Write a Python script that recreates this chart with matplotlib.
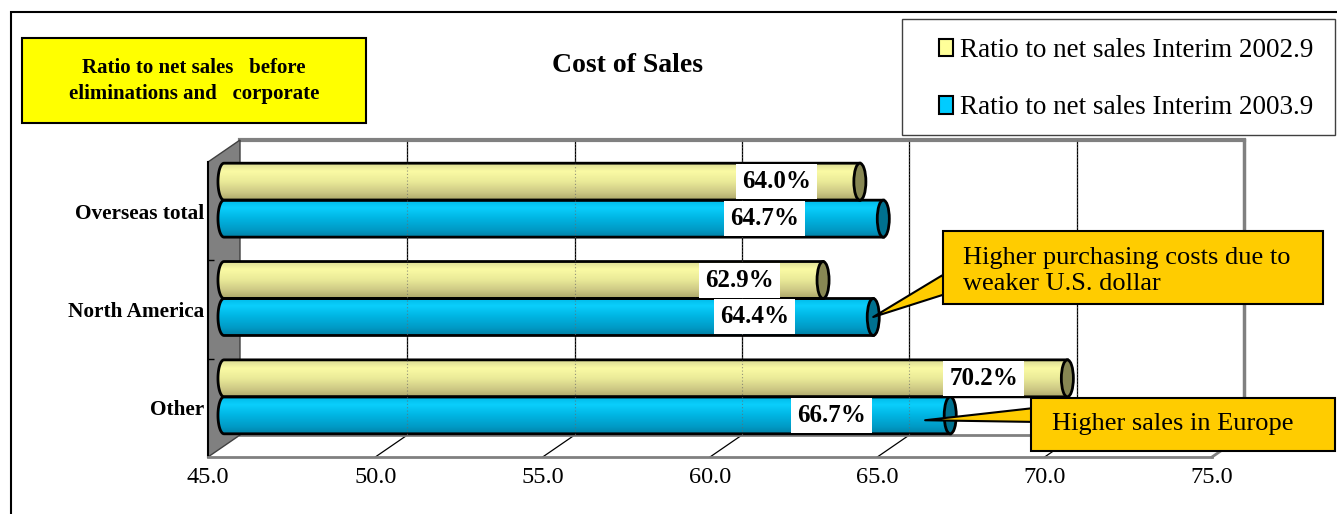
import numpy as np
import matplotlib
matplotlib.use("Agg")
import matplotlib.pyplot as plt
from matplotlib.patches import Rectangle, Polygon, Ellipse, PathPatch, Patch
from matplotlib.path import Path
from matplotlib.colors import LinearSegmentedColormap

plt.rcParams['font.family'] = ['Liberation Serif', 'DejaVu Serif']

# data
categories = ['Overseas total', 'North America', 'Other']
ratio_2002 = [64.0, 62.9, 70.2]
ratio_2003 = [64.7, 64.4, 66.7]
series_names = ['Ratio to net sales Interim 2002.9', 'Ratio to net sales Interim 2003.9']
x_ticks = [45.0, 50.0, 55.0, 60.0, 65.0, 70.0, 75.0]
title = 'Cost of Sales'
note = 'Ratio to net sales   before\neliminations and   corporate'
callout_na = 'Higher purchasing costs due to\nweaker U.S. dollar'
callout_other = 'Higher sales in Europe'

W, H = 1337, 514
fig = plt.figure(figsize=(W / 100, H / 100), dpi=100)


def px(x, y):
    # pixel position -> figure fraction
    return x / W, 1 - y / H


ax = fig.add_axes([208 / W, 1 - 457 / H, 1004 / W, 295 / H])
ax.set_facecolor('none')
xmin, xmax = x_ticks[0], x_ticks[-1]
# 3d depth offset in data units
DX = 32 / (1004 / (xmax - xmin))
DY = 22 / (295 / 3)
y0, y1 = -0.5, 2.5

# back wall grid lines and floor
for t in x_ticks[1:-1]:
    ax.plot([t + DX, t + DX], [y0 - DY, y1 - DY], color='black', lw=0.9, zorder=1, clip_on=False)
    ax.plot([t, t + DX], [y1, y1 - DY], color='black', lw=0.9, zorder=1, clip_on=False)
ax.plot([xmin + DX, xmax + DX], [y0 - DY, y0 - DY], color='#808080', lw=3, zorder=1, clip_on=False)
ax.plot([xmax + DX, xmax + DX], [y0 - DY, y1 - DY], color='#808080', lw=2.5, zorder=1, clip_on=False)
ax.plot([xmin + DX, xmax + DX], [y1 - DY, y1 - DY], color='#808080', lw=2, zorder=1, clip_on=False)
ax.plot([xmax, xmax + DX], [y1, y1 - DY], color='#808080', lw=2, zorder=1, clip_on=False)

# left wall
wall = Polygon([(xmin, y0), (xmin + DX, y0 - DY), (xmin + DX, y1 - DY), (xmin, y1)],
               closed=True, fc='#808080', ec='#404040', lw=1, zorder=1.5, clip_on=False)
ax.add_patch(wall)

yellow_cmap = LinearSegmentedColormap.from_list('y', [(0, '#DCDC94'), (0.22, '#FAFAA4'), (0.5, '#EAEA98'),
                                                       (0.8, '#CCC784'), (1, '#AEA86A')])
blue_cmap = LinearSegmentedColormap.from_list('b', [(0, '#00BAE8'), (0.2, '#0ACFFC'), (0.5, '#00B4E2'),
                                                     (0.8, '#009BC6'), (1, '#0082A8')])
cap_colors = ['#878753', '#00718F']
grad = np.linspace(0, 1, 60).reshape(-1, 1)

bar_h = 0.376
a = 0.18  # half width of end ellipses


def cylinder(value, yc, cmap, cap):
    x0 = xmin + DX / 2
    x1 = value + DX / 2
    yt, yb = yc - bar_h / 2, yc + bar_h / 2
    th = np.linspace(np.pi / 2, 3 * np.pi / 2, 30)
    verts = list(zip(x0 + a * np.cos(th), yc - bar_h / 2 * np.sin(th)))
    verts += [(x1, yb), (x1, yt), (x0, yt)]
    path = Path(verts, closed=True)
    clip = PathPatch(path, transform=ax.transData)
    im = ax.imshow(grad, cmap=cmap, aspect='auto', origin='upper',
                   extent=(x0 - a, x1, yb, yt), zorder=3, interpolation='bilinear')
    im.set_clip_path(clip)
    ax.add_patch(PathPatch(path, fc='none', ec='black', lw=2, zorder=3.1, clip_on=False))
    ax.add_patch(Ellipse((x1, yc), 2 * a, bar_h, fc=cap, ec='black', lw=2, zorder=3.2, clip_on=False))


label_shift = [-2.5, -3.55]
for i, cat in enumerate(categories):
    yc = i - DY / 2
    for s, (vals, cmap) in enumerate([(ratio_2002, yellow_cmap), (ratio_2003, blue_cmap)]):
        ybar = yc + (bar_h / 2 if s else -bar_h / 2)
        cylinder(vals[i], ybar, cmap, cap_colors[s])

# faint dotted gridlines seen through the bars
for t in x_ticks[1:-1]:
    ax.plot([t + DX, t + DX], [y0 - DY, y1 - DY], color='#6a6a6a', lw=0.8, ls=(0, (1, 2)),
            zorder=3.5, alpha=0.7, clip_on=False)

for i, cat in enumerate(categories):
    yc = i - DY / 2
    for s, vals in enumerate([ratio_2002, ratio_2003]):
        ybar = yc + (bar_h / 2 if s else -bar_h / 2)
        ax.text(vals[i] + DX / 2 + label_shift[s], ybar, f'{vals[i]:.1f}%', ha='center', va='center',
                fontsize=18, fontweight='bold', zorder=5,
                bbox=dict(boxstyle='square,pad=0.24', fc='white', ec='none'))

ax.set_xlim(xmin, xmax)
ax.set_ylim(y1, y0)
ax.set_xticks(x_ticks)
ax.set_xticklabels([f'{t:.1f}' for t in x_ticks], fontsize=17.5)
ax.set_yticks(range(len(categories)))
ax.set_yticklabels(categories, fontsize=15.3, fontweight='bold')
ax.set_yticks([0.5, 1.5], minor=True)
ax.tick_params(axis='x', length=0, pad=7)
ax.tick_params(axis='y', which='major', length=0, pad=3)
ax.tick_params(axis='y', which='minor', length=4, direction='in', color='black', width=1)
for side in ['top', 'right']:
    ax.spines[side].set_visible(False)
ax.spines['left'].set_color('black')
ax.spines['left'].set_linewidth(1.5)
ax.spines['left'].set_zorder(2)
ax.spines['bottom'].set_color('#808080')
ax.spines['bottom'].set_linewidth(2)

# outer chart border
fig.patches.append(Rectangle(px(11, 530), 1340 / W, 518 / H, transform=fig.transFigure,
                             fc='none', ec='black', lw=1.5))

# yellow note box
fig.patches.append(Rectangle(px(22, 123), 344 / W, 85 / H, transform=fig.transFigure,
                             fc='#FFFF00', ec='black', lw=1.5))
fig.text(*px(194, 81), note, ha='center', va='center', fontsize=15, fontweight='bold',
         linespacing=1.35)

fig.text(*px(628, 65), title, ha='center', va='center', fontsize=20, fontweight='bold')

# legend
fig.patches.append(Rectangle(px(902, 135), 433 / W, 116 / H, transform=fig.transFigure,
                             fc='white', ec='#404040', lw=1))
handles = [Patch(fc='#FFFF99', ec='black', lw=1.5), Patch(fc='#00CCFF', ec='black', lw=1.5)]
fig.legend(handles, series_names, loc='upper left', bbox_to_anchor=px(939, 38), frameon=False,
           borderpad=0, borderaxespad=0, fontsize=19.5, handlelength=0.5, handleheight=0.6,
           handletextpad=0.28, labelspacing=1.2)

# callouts
gold = '#FFCC00'
ax.annotate('', xy=(ratio_2003[1] + DX / 2, 1 - DY / 2 + bar_h / 2), xycoords='data',
            xytext=px(946, 284), textcoords='figure fraction',
            arrowprops=dict(arrowstyle='wedge,tail_width=0.68,shrink_factor=0.5', fc=gold, ec='black',
                            lw=1.5, shrinkA=0, shrinkB=0, mutation_scale=20),
            zorder=6, annotation_clip=False)
fig.patches.append(Rectangle(px(943, 304), 380 / W, 73 / H, transform=fig.transFigure,
                             fc=gold, ec='black', lw=1.5, zorder=7))
fig.text(*px(963, 271), callout_na, ha='left', va='center', fontsize=19, linespacing=1.2, zorder=8)

ax.annotate('', xy=(ratio_2003[2] + DX / 2 - 0.75, 2 - DY / 2 + bar_h / 2 + 0.05), xycoords='data',
            xytext=px(1034, 415), textcoords='figure fraction',
            arrowprops=dict(arrowstyle='wedge,tail_width=0.5,shrink_factor=0.5', fc=gold, ec='black',
                            lw=1.5, shrinkA=0, shrinkB=0, mutation_scale=20),
            zorder=6, annotation_clip=False)
fig.patches.append(Rectangle(px(1031, 451), 304 / W, 53 / H, transform=fig.transFigure,
                             fc=gold, ec='black', lw=1.5, zorder=7))
fig.text(*px(1052, 424), callout_other, ha='left', va='center', fontsize=19, zorder=8)

fig.savefig('out.png', dpi=100)
